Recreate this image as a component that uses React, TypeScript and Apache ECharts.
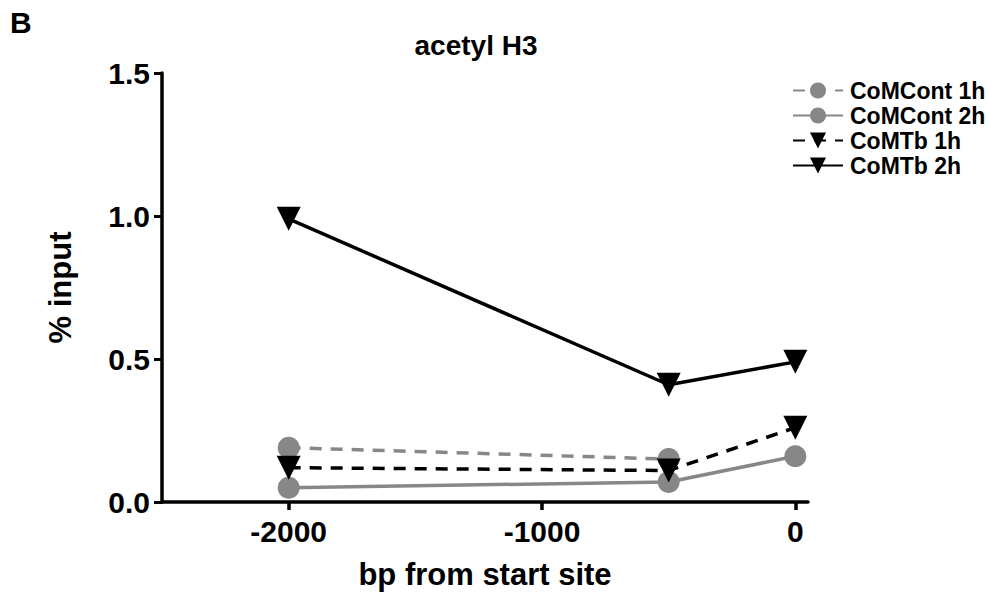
import React, { useEffect, useRef } from "react";
import * as echarts from "echarts";

const positions = [-2000, -500, 0];
const comContOneH = [0.19, 0.15, null];
const comContTwoH = [0.05, 0.07, 0.16];
const comTbOneH = [0.12, 0.11, 0.26];
const comTbTwoH = [0.99, 0.41, 0.49];
const seriesNames = ["CoMCont 1h", "CoMCont 2h", "CoMTb 1h", "CoMTb 2h"];
const xTicks = [-2000, -1000, 0];

const FONT = "Liberation Sans, Arial, sans-serif";

function pairs(vals: (number | null)[]) {
  return positions
    .map((x, i) => [x, vals[i]])
    .filter((p) => p[1] !== null);
}

export default function App() {
  const ref = useRef<HTMLDivElement>(null);
  useEffect(() => {
    const chart = echarts.init(ref.current!, null, { renderer: "svg" });
    const gray = "#878787";
    const mk = (
      name: string,
      vals: (number | null)[],
      color: string,
      type: string,
      symbol: string
    ) => ({
      name,
      type: "line",
      data: pairs(vals),
      symbol,
      symbolSize: symbol === "circle" ? 22 : 24,
      symbolRotate: symbol === "triangle" ? 180 : 0,
      itemStyle: { color },
      lineStyle: {
        color,
        width: 3.5,
        type: type === "dashed" ? [12, 9] : "solid",
      },
      z: 2,
    });
    chart.setOption({
      animation: false,
      backgroundColor: "#fff",
      title: {
        text: "acetyl H3",
        left: 471,
        top: 26,
        textAlign: "center",
        textStyle: { fontFamily: FONT, fontWeight: "bold", fontSize: 28, color: "#000" },
      },
      graphic: [
        {
          type: "text",
          left: 10,
          top: 7,
          style: { text: "B", fontFamily: FONT, fontWeight: "bold", fontSize: 30, fill: "#000" },
        },
      ],
      legend: {
        orient: "vertical",
        left: 787,
        top: 74,
        itemWidth: 50,
        itemHeight: 20,
        itemGap: 2,
        textStyle: { fontFamily: FONT, fontWeight: "bold", fontSize: 23, color: "#000", padding: [0, 0, 0, 2] },
        data: seriesNames,
      },
      grid: { left: 162, right: 180, top: 73, bottom: 91, containLabel: false },
      xAxis: {
        type: "value",
        min: -2500,
        max: 50,
        name: "bp from start site",
        nameLocation: "middle",
        nameGap: 57,
        nameTextStyle: { fontFamily: FONT, fontWeight: "bold", fontSize: 31, color: "#000" },
        axisLine: { onZero: false, lineStyle: { color: "#000", width: 3.5 } },
        axisTick: {
          show: true,
          length: 8,
          lineStyle: { color: "#000", width: 3.5 },
          customValues: xTicks,
        },
        axisLabel: {
          fontFamily: FONT,
          fontWeight: "bold",
          fontSize: 30,
          color: "#000",
          margin: 14,
          customValues: xTicks,
          formatter: (v: number) => String(v),
        },
        splitLine: { show: false },
      },
      yAxis: {
        type: "value",
        min: 0,
        max: 1.5,
        interval: 0.5,
        name: "% input",
        nameLocation: "middle",
        nameGap: 86,
        nameRotate: 90,
        nameTextStyle: { fontFamily: FONT, fontWeight: "bold", fontSize: 31, color: "#000" },
        axisLine: { show: true, onZero: false, lineStyle: { color: "#000", width: 3.5 } },
        axisTick: { show: true, length: 8, lineStyle: { color: "#000", width: 3 } },
        axisLabel: {
          fontFamily: FONT,
          fontWeight: "bold",
          fontSize: 30,
          color: "#000",
          margin: 12,
          formatter: (v: number) => v.toFixed(1),
        },
        splitLine: { show: false },
      },
      series: [
        mk(seriesNames[0], comContOneH, gray, "dashed", "circle"),
        mk(seriesNames[1], comContTwoH, gray, "solid", "circle"),
        mk(seriesNames[2], comTbOneH, "#000", "dashed", "triangle"),
        mk(seriesNames[3], comTbTwoH, "#000", "solid", "triangle"),
      ],
    });
    return () => chart.dispose();
  }, []);
  return <div ref={ref} style={{ width: 988, height: 595, position: "absolute", left: 0, top: 0 }} />;
}
